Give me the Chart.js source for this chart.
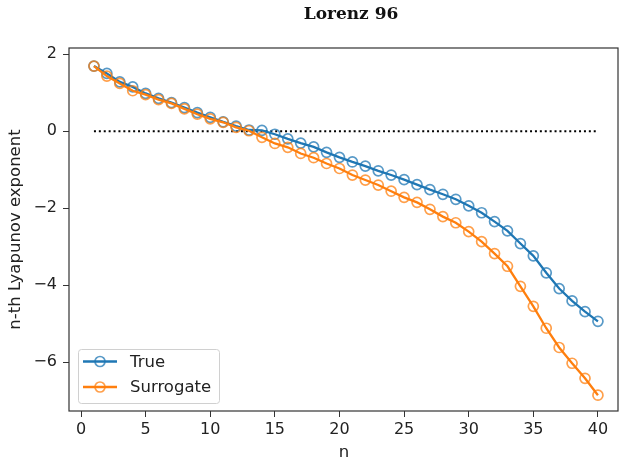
<!DOCTYPE html>
<html>
<head>
<meta charset="utf-8">
<script src="https://cdn.jsdelivr.net/npm/chart.js@4/dist/chart.umd.min.js"></script>
<style>
  html, body { margin: 0; padding: 0; background: #fff; }
  #wrap { width: 620px; height: 460px; }
</style>
</head>
<body>
<div id="wrap"><canvas id="myChart" width="620" height="460"></canvas></div>
<script>
// data
const ns = [1,2,3,4,5,6,7,8,9,10,11,12,13,14,15,16,17,18,19,20,
            21,22,23,24,25,26,27,28,29,30,31,32,33,34,35,36,37,38,39,40];
const trueExp = [1.69, 1.50, 1.28, 1.15, 0.98, 0.85, 0.74, 0.61, 0.48, 0.36,
                 0.24, 0.13, 0.03, 0.02, -0.08, -0.20, -0.31, -0.41, -0.55, -0.68,
                 -0.80, -0.91, -1.03, -1.14, -1.26, -1.39, -1.52, -1.64, -1.77, -1.94,
                 -2.12, -2.35, -2.59, -2.92, -3.24, -3.68, -4.09, -4.41, -4.69, -4.94];
const surrogateExp = [1.69, 1.43, 1.24, 1.05, 0.95, 0.82, 0.72, 0.58, 0.44, 0.32,
                      0.23, 0.10, 0.01, -0.16, -0.32, -0.42, -0.58, -0.69, -0.84, -0.97,
                      -1.14, -1.27, -1.40, -1.56, -1.72, -1.85, -2.03, -2.22, -2.38, -2.61,
                      -2.87, -3.18, -3.51, -4.03, -4.55, -5.12, -5.62, -6.03, -6.42, -6.86];
const xTicks = [0, 5, 10, 15, 20, 25, 30, 35, 40];
const yTicks = [-6, -4, -2, 0, 2];

const blue = '#1f77b4';
const orange = '#ff7f0e';
const fs = 16;
const tickFont = { family: 'DejaVu Sans', size: fs };

function pts(vals) {
  return ns.map((n, i) => ({ x: n, y: vals[i] }));
}

function fmt(v) {
  return v < 0 ? '\u2212' + Math.abs(v) : String(v);
}

// title, frame and legend (matplotlib style)
const extras = {
  id: 'extras',
  afterDraw(chart) {
    const ctx = chart.ctx;
    const a = chart.chartArea;
    ctx.save();
    ctx.strokeStyle = '#333';
    ctx.lineWidth = 1.2;
    ctx.strokeRect(a.left, a.top, a.right - a.left - 1, a.bottom - a.top);

    ctx.fillStyle = '#111';
    ctx.font = 'bold 17px "DejaVu Serif"';
    ctx.textAlign = 'center';
    ctx.textBaseline = 'middle';
    ctx.fillText('Lorenz 96', 351, 15);

    // legend box
    const bx = a.left + 9, by = a.bottom - 62, bw = 141, bh = 54;
    ctx.beginPath();
    ctx.roundRect(bx + 0.5, by + 0.5, bw, bh, 3);
    ctx.fillStyle = 'rgba(255,255,255,0.85)';
    ctx.fill();
    ctx.strokeStyle = '#d0d0d0';
    ctx.lineWidth = 1;
    ctx.stroke();

    const items = chart.data.datasets.filter(d => d.label);
    items.forEach((d, i) => {
      const y = by + 12.5 + i * 25.5;
      ctx.strokeStyle = d.borderColor;
      ctx.lineWidth = 2.3;
      ctx.beginPath();
      ctx.moveTo(bx + 5, y);
      ctx.lineTo(bx + 39, y);
      ctx.stroke();
      ctx.beginPath();
      ctx.arc(bx + 22, y, 5, 0, Math.PI * 2);
      ctx.lineWidth = 1.7;
      ctx.strokeStyle = d.pointBorderColor;
      ctx.stroke();
      ctx.fillStyle = '#222';
      ctx.font = '16.5px "DejaVu Sans"';
      ctx.textAlign = 'left';
      ctx.fillText(d.label, bx + 52, y + 1);
    });
    ctx.restore();
  }
};

const data = {
  datasets: [
    {
      label: 'True',
      data: pts(trueExp),
      borderColor: blue,
      pointBorderColor: 'rgba(31,119,180,0.75)',
      pointBackgroundColor: 'rgba(0,0,0,0)',
      borderWidth: 2.3,
      pointRadius: 5,
      pointBorderWidth: 1.7,
      tension: 0,
      order: 2
    },
    {
      label: 'Surrogate',
      data: pts(surrogateExp),
      borderColor: orange,
      pointBorderColor: 'rgba(255,127,14,0.75)',
      pointBackgroundColor: 'rgba(0,0,0,0)',
      borderWidth: 2.3,
      pointRadius: 5,
      pointBorderWidth: 1.7,
      tension: 0,
      order: 1
    },
    {
      data: [{ x: ns[0], y: 0 }, { x: ns[ns.length - 1], y: 0 }],
      borderColor: '#000',
      borderWidth: 2,
      borderDash: [2, 2.9],
      pointRadius: 0,
      order: 3
    }
  ]
};

const config = {
  type: 'line',
  data: data,
  options: {
    responsive: false,
    animation: false,
    layout: { autoPadding: false, padding: { top: 48, right: 1, left: 0, bottom: 0 } },
    plugins: {
      legend: { display: false },
      tooltip: { enabled: false },
      title: { display: false }
    },
    scales: {
      x: {
        type: 'linear',
        min: -0.93,
        max: 41.63,
        afterFit: s => { s.height = 49; },
        afterBuildTicks: s => { s.ticks = xTicks.map(v => ({ value: v })); },
        grid: { drawOnChartArea: false, drawTicks: true, tickLength: 6, color: '#333' },
        border: { display: false },
        ticks: { font: tickFont, color: '#222', padding: 3, maxRotation: 0, callback: fmt },
        title: { display: true, text: 'n', font: { family: 'DejaVu Sans', size: 16.5, lineHeight: 0.8 }, color: '#222', padding: { top: 0, bottom: 0.5 } }
      },
      y: {
        type: 'linear',
        min: -7.27,
        max: 2.16,
        afterFit: s => { s.width = 69; },
        afterBuildTicks: s => { s.ticks = yTicks.map(v => ({ value: v })); },
        grid: { drawOnChartArea: false, drawTicks: true, tickLength: 6, color: '#333' },
        border: { display: false },
        ticks: { font: tickFont, color: '#222', padding: 6, callback: fmt },
        title: { display: true, text: 'n-th Lyapunov exponent', font: { family: 'DejaVu Sans', size: 16.5, lineHeight: 1.2 }, color: '#222', padding: { top: 6, bottom: 0 } }
      }
    }
  },
  plugins: [extras]
};

const myChart = new Chart(document.getElementById('myChart'), config);
</script>
</body>
</html>
